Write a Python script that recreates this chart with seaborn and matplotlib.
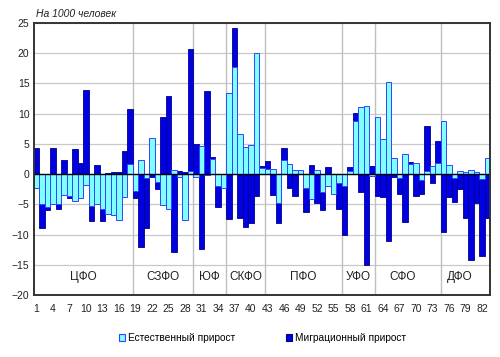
import pandas as pd
import matplotlib
matplotlib.use("Agg")
import matplotlib.pyplot as plt
import seaborn as sns
from matplotlib.patches import Patch

# Данные: прирост населения на 1000 человек по регионам
regions = list(range(1, 84))
natural = [-2.3, -4.9, -5.4, -5.0, -5.0, -3.5, -3.6, -4.5, -4.0, -1.8,
           -5.2, -5.0, -5.8, -6.5, -6.8, -7.5, -3.7, 1.7, -2.8, 2.3,
           -0.7, 6.0, -1.3, -5.1, -5.7, 0.7, -0.4, -7.6, 0.5, -0.4,
           4.6, -0.2, 2.5, -1.9, -2.3, 13.4, 17.7, 6.7, 4.4, 4.85,
           20.0, 1.0, 0.9, 0.9, -4.8, 2.4, 1.75, 0.75, 0.65, -2.3,
           -4.1, 0.65, -3.0, -2.0, -3.2, -1.5, -1.9, 0.55, 8.7, 11.1,
           11.2, -0.3, 9.5, 5.8, 15.2, 2.6, -0.7, 3.3, 1.6, 1.9,
           -1.0, 0.5, 1.4, 1.9, 8.8, 1.5, -0.7, 0.5, 0.3, 0.65,
           0.4, -0.8, 2.6]
migration = [4.3, -8.9, -6.0, 4.3, -5.8, 2.4, -4.0, 4.1, 1.8, 13.9,
             -7.8, 1.5, -7.8, 0.2, 0.3, 0.3, 3.8, 10.7, -4.0, -12.1,
             -8.9, -0.5, -2.4, 9.5, 12.9, -12.9, 0.5, 0.3, 20.6, 5.0,
             -12.3, 13.8, 2.8, -5.4, 0.1, -7.4, 24.2, -7.2, -8.8, -8.1,
             -3.6, 1.4, 2.2, -3.5, -8.0, 4.35, -2.3, -3.6, 0.5, -6.3,
             1.5, -4.7, -6.0, 1.2, -1.0, -5.7, -10.0, 1.2, 10.1, -2.9,
             -15.0, 1.3, -3.6, -3.7, -11.0, -0.4, -3.3, -7.9, 2.0, -3.6,
             -3.2, 8.0, -1.5, 5.5, -9.6, -3.7, -4.6, -2.4, -7.2, -14.2,
             -4.7, -13.5, -7.2]

districts = ["ЦФО", "СЗФО", "ЮФ", "СКФО", "ПФО", "УФО", "СФО", "ДФО"]
district_sizes = [18, 11, 6, 7, 14, 6, 12, 9]

df = pd.DataFrame({"region": regions, "natural": natural, "migration": migration})

light = "#80ffff"
dark = "#0000e0"

plt.rcParams["font.family"] = ["Liberation Sans", "DejaVu Sans"]
fig = plt.figure(figsize=(5.0, 3.57), dpi=100)
ax = fig.add_axes([0.0674, 0.1728, 0.9132, 0.7636])

# миграционный прирост сзади, естественный спереди
sns.barplot(data=df, x="region", y="migration", order=regions, color=dark,
            saturation=1, width=1.0, edgecolor="#00008a", linewidth=0.6,
            ax=ax, zorder=2)
sns.barplot(data=df, x="region", y="natural", order=regions, color=light,
            saturation=1, width=1.0, edgecolor="#3344ff", linewidth=0.7,
            ax=ax, zorder=3)

# сетка
for v in range(-20, 26, 5):
    ax.axhline(v, color="#c8c8c8", lw=0.9, zorder=1)
bound = 0
for s in district_sizes[:-1]:
    bound += s
    ax.axvline(bound - 0.5, color="#c0c0c0", lw=1.0, zorder=1)

ax.axhline(0, color="black", lw=1.0, zorder=4)

ax.set_xlim(-0.5, len(regions) - 0.5)
ax.set_ylim(-20, 25)
ax.set_yticks(range(-20, 26, 5))
ax.set_xticks(range(0, len(regions), 3))
ax.set_xticklabels([str(r) for r in regions[::3]])
ax.tick_params(axis="both", length=0, labelsize=7.5, colors="#222222")
ax.tick_params(axis="x", pad=6)
ax.tick_params(axis="y", pad=3)
ax.set_xlabel("")
ax.set_ylabel("")
for sp in ax.spines.values():
    sp.set_color("#333333")
    sp.set_linewidth(1.4)
    sp.set_zorder(5)

# подписи округов
start = 0
for name, s in zip(districts, district_sizes):
    center = start + (s - 1) / 2
    if name in ("СФО", "ДФО"):
        center -= 1.0
    ax.text(center, -17, name, ha="center", va="center", fontsize=8.5,
            color="#222222", zorder=6)
    start += s

ax.text(0.005, 1.012, "На 1000 человек", transform=ax.transAxes,
        fontsize=7.5, style="italic", color="#222222", ha="left", va="bottom")

handles = [Patch(facecolor=light, edgecolor="#3344ff", lw=0.8),
           Patch(facecolor=dark, edgecolor="#00008a", lw=0.8)]
fig.legend(handles, ["Естественный прирост", "Миграционный прирост"],
           loc="center", bbox_to_anchor=(0.525, 0.053), ncol=2, frameon=False,
           fontsize=7.3, handlelength=0.6, handleheight=0.6, handletextpad=0.3,
           columnspacing=5.0)

fig.savefig("out.png", dpi=100)
